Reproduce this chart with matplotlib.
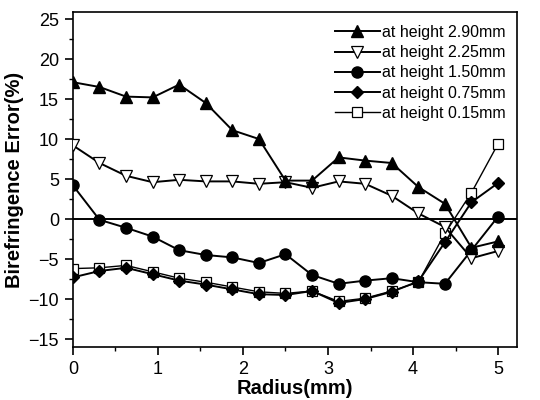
import matplotlib
matplotlib.use("Agg")
import matplotlib.pyplot as plt
from matplotlib.ticker import MultipleLocator

plt.rcParams['font.family'] = ['Liberation Sans', 'DejaVu Sans']

radius = [i * 5 / 16 for i in range(17)]

h290 = [17.1, 16.5, 15.3, 15.2, 16.8, 14.5, 11.1, 10.0, 4.8, 4.8, 7.7, 7.3, 7.0, 4.0, 1.9, -3.6, -2.8]
h225 = [9.2, 7.0, 5.4, 4.6, 4.9, 4.7, 4.7, 4.4, 4.6, 3.9, 4.7, 4.4, 2.9, 0.7, -1.0, -4.9, -4.0]
h150 = [4.2, -0.1, -1.1, -2.2, -3.9, -4.5, -4.8, -5.5, -4.4, -7.0, -8.1, -7.7, -7.4, -7.9, -8.1, -3.9, 0.3]
h075 = [-7.3, -6.5, -6.1, -6.9, -7.7, -8.2, -8.8, -9.4, -9.5, -9.0, -10.5, -10.0, -9.1, -7.8, -2.9, 2.1, 4.5]
h015 = [-6.2, -6.1, -5.8, -6.6, -7.4, -7.9, -8.5, -9.1, -9.3, -9.0, -10.3, -9.9, -9.0, -7.9, -1.8, 3.3, 9.4]

labels = ["at height 2.90mm", "at height 2.25mm", "at height 1.50mm",
          "at height 0.75mm", "at height 0.15mm"]

fig = plt.figure(figsize=(5.4, 4.0), dpi=100)
ax = fig.add_axes([0.135, 0.1325, 0.822, 0.8375])

ax.axhline(0, color='black', lw=1.4, zorder=1)

lw = 1.4
ax.plot(radius, h015, '-s', color='black', lw=1.0, ms=6.5, mfc='white', mec='black', mew=0.9, label=labels[4], zorder=2)
ax.plot(radius, h075, '-D', color='black', lw=lw, ms=6.5, mfc='black', mec='black', label=labels[3], zorder=3)
ax.plot(radius, h150, '-o', color='black', lw=lw, ms=8, mfc='black', mec='black', label=labels[2], zorder=3)
ax.plot(radius, h225, '-v', color='black', lw=lw, ms=9, mfc='white', mec='black', mew=0.9, label=labels[1], zorder=4)
ax.plot(radius, h290, '-^', color='black', lw=lw, ms=9, mfc='black', mec='black', label=labels[0], zorder=4)

ax.set_xlim(0, 5.22)
ax.set_ylim(-16, 25.875)
ax.xaxis.set_major_locator(MultipleLocator(1))
ax.xaxis.set_minor_locator(MultipleLocator(0.5))
ax.yaxis.set_major_locator(MultipleLocator(5))
ax.yaxis.set_minor_locator(MultipleLocator(2.5))
ax.tick_params(which='major', direction='out', length=6, width=1.2, labelsize=13, pad=4, top=False, right=False)
ax.tick_params(which='minor', direction='out', length=3, width=1.0, top=False, right=False)
for s in ax.spines.values():
    s.set_linewidth(1.2)

ax.set_xlabel("Radius(mm)", fontsize=14.5, fontweight='bold', labelpad=1)
ax.set_ylabel("Birefringence Error(%)", fontsize=14.5, fontweight='bold', labelpad=3)

h, l = ax.get_legend_handles_labels()
order = [4, 3, 2, 1, 0]
ax.legend([h[i] for i in order], [l[i] for i in order], loc='upper right', frameon=False,
          fontsize=11.5, handlelength=2.8, handletextpad=0.15, labelspacing=0.33,
          borderaxespad=0.5, borderpad=0.2, bbox_to_anchor=(1.0, 0.995))

fig.savefig("out.png", dpi=100)
